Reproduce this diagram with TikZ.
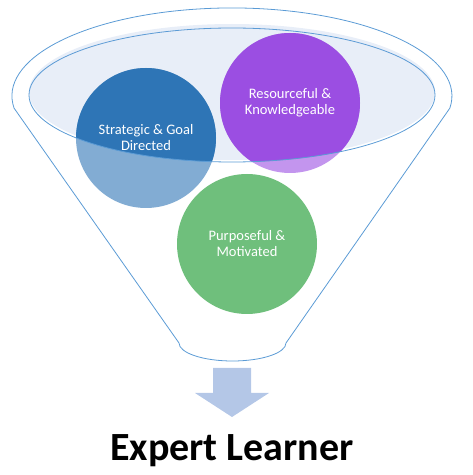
\documentclass[tikz,border=0pt]{standalone}
\usepackage{fontspec}
\setmainfont{Carlito}
\definecolor{funnelline}{RGB}{91,155,213}
\definecolor{rimfill}{RGB}{232,238,248}
\definecolor{stratblue}{RGB}{46,117,182}
\definecolor{resviolet}{RGB}{155,78,226}
\definecolor{purpgreen}{RGB}{111,191,124}
\definecolor{arrowfill}{RGB}{180,199,231}
\tikzset{
	ball/.style={
		circle,
		minimum size=140pt,
		inner sep=0pt,
		fill opacity=.6,
		text opacity=1,
		text=white,
		align=center,
		font=\fontsize{14.5}{16}\selectfont
	},
	rim/.style={
		draw=funnelline,
		line width=.8pt
	}
}

\begin{document}
\begin{tikzpicture}[x=1pt, y=1pt]
\useasboundingbox (0,0) rectangle (473,475);
\coordinate (C1) at (146,337);
\coordinate (C2) at (290,372);
\coordinate (C3) at (247,231);

% funnel outline
\draw[rim] (14.1,366.8) arc[start angle=188, end angle=-8, x radius=220, y radius=88]
	-- (286,132) arc[start angle=0, end angle=-180, x radius=53.5, y radius=18] -- cycle;

% mouth of the funnel
\fill[rimfill] (232,383) ellipse[x radius=203, y radius=68];
\begin{scope}
	\clip (232,380) ellipse[x radius=203, y radius=67];
	\fill[stratblue] (C1) circle (70);
	\fill[resviolet] (C2) circle (70);
\end{scope}

\node[ball, fill=stratblue] (strat) at (C1) {Strategic \& Goal\\Directed};
\node[ball, fill=resviolet] (res) at (C2) {Resourceful \&\\Knowledgeable};
\node[ball, fill=purpgreen, fill opacity=1] (purp) at (C3) {Purposeful \&\\Motivated};
\draw[rim] (232,380) ellipse[x radius=203, y radius=67];

% arrow and result
\fill[arrowfill] (213,107) -- (251,107) -- (251,82) -- (269,82) -- (232,58) -- (195,82) -- (213,82) -- cycle;
\node[font=\bfseries\fontsize{40}{48}\selectfont, anchor=base] (expert) at (232,14) {Expert Learner};
\end{tikzpicture}
\end{document}
